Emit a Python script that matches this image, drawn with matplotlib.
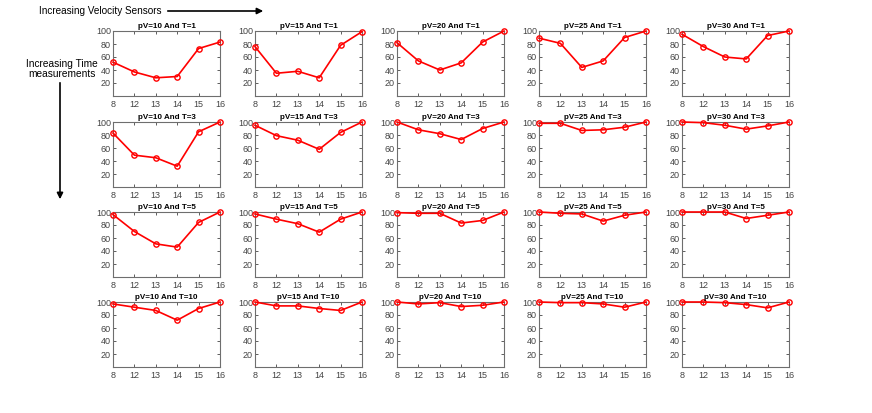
import numpy as np
import matplotlib.pyplot as plt
from matplotlib.patches import FancyArrowPatch

plt.rcParams['font.family'] = ['Liberation Sans', 'DejaVu Sans']

x_labels = ['8', '12', '13', '14', '15', '16']
pv_values = [10, 15, 20, 25, 30]
t_values = [1, 3, 5, 10]

# detection rate per (T, pV)
t1 = [[52, 37, 28, 30, 73, 83],
      [76, 35, 38, 28, 78, 99],
      [82, 54, 40, 51, 83, 100],
      [89, 81, 44, 54, 90, 100],
      [95, 76, 60, 57, 93, 100]]
t3 = [[83, 49, 45, 32, 85, 100],
      [95, 79, 72, 58, 84, 100],
      [100, 88, 82, 73, 90, 100],
      [98, 98, 87, 88, 92, 100],
      [100, 99, 95, 89, 94, 100]]
t5 = [[96, 70, 51, 46, 84, 100],
      [97, 89, 82, 69, 89, 100],
      [99, 98, 98, 83, 87, 100],
      [100, 98, 97, 86, 95, 100],
      [100, 100, 100, 90, 95, 100]]
t10 = [[97, 92, 87, 72, 90, 100],
       [100, 94, 94, 90, 87, 100],
       [100, 97, 99, 93, 95, 100],
       [100, 99, 99, 97, 92, 100],
       [100, 100, 99, 96, 91, 100]]
rows = [t1, t3, t5, t10]

W, H = 872, 413
fig = plt.figure(figsize=(W / 100, H / 100), dpi=100)

col_left = [113, 255, 397, 539, 682]
row_top = [31, 122, 212, 302]
aw, ah = 107, 65
xs = np.arange(1, 7)

for i, (T, data) in enumerate(zip(t_values, rows)):
    for j, (pv, ys) in enumerate(zip(pv_values, data)):
        ax = fig.add_axes([col_left[j] / W, 1 - (row_top[i] + ah) / H, aw / W, ah / H])
        ax.plot(xs, ys, '-o', color='#ff0000', lw=1.2, ms=3.8, mfc='none', mew=1.0,
                clip_on=False, zorder=3)
        ax.set_xlim(1, 6)
        ax.set_ylim(0, 100)
        ax.set_xticks(xs)
        ax.set_xticklabels(x_labels)
        ax.set_yticks([20, 40, 60, 80, 100])
        ax.tick_params(direction='in', length=2, width=0.6, top=True, right=True,
                       labelsize=6.5, colors='#444444', pad=1.5)
        ax.tick_params(axis='x', pad=3)
        for sp in ax.spines.values():
            sp.set_color('#6e6e6e')
            sp.set_linewidth(0.8)
        ax.set_title(f'pV={pv} And T={T}', fontsize=5.8, fontweight='bold', pad=2)

fig.text(39 / W, 1 - 11 / H, 'Increasing Velocity Sensors', fontsize=7.2, va='center', ha='left')
fig.patches.append(FancyArrowPatch(
    (165 / W, 1 - 11 / H), (266 / W, 1 - 11 / H), transform=fig.transFigure,
    arrowstyle='-|>', mutation_scale=9, lw=1.2, color='black'))
fig.text(62 / W, 1 - 69 / H, 'Increasing Time\nmeasurements', fontsize=7.3, va='center', ha='center',
         linespacing=1.0)
fig.patches.append(FancyArrowPatch(
    (60 / W, 1 - 80 / H), (60 / W, 1 - 202 / H), transform=fig.transFigure,
    arrowstyle='-|>', mutation_scale=9, lw=1.2, color='black'))

fig.savefig('out.png', dpi=100, facecolor='white')
